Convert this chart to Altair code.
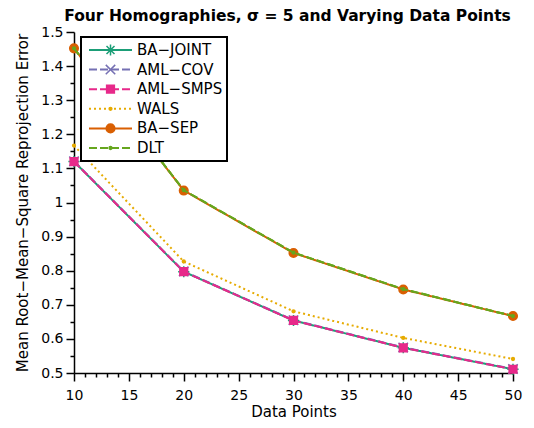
import altair as alt
import pandas as pd

# ---- data ----
data_points = [10, 20, 30, 40, 50]
series_names = ["BA\u2212JOINT", "AML\u2212COV", "AML\u2212SMPS", "WALS", "BA\u2212SEP", "DLT"]
ba_joint = [1.120, 0.797, 0.654, 0.574, 0.511]
aml_cov = [1.121, 0.798, 0.655, 0.575, 0.512]
aml_smps = [1.120, 0.797, 0.654, 0.574, 0.511]
wals = [1.167, 0.827, 0.681, 0.603, 0.541]
ba_sep = [1.452, 1.035, 0.852, 0.745, 0.667]
dlt = [1.452, 1.036, 0.853, 0.746, 0.667]

x_ticks = list(range(10, 51))
y_ticks = [0.5, 0.55, 0.6, 0.65, 0.7, 0.75, 0.8, 0.85, 0.9, 0.95, 1.0,
           1.05, 1.1, 1.15, 1.2, 1.25, 1.3, 1.35, 1.4, 1.45, 1.5]

colors = ["#1b9e77", "#7570b3", "#e7298a", "#e6ab02", "#d95f02", "#66a61e"]
dashes = [[1, 0], [8, 3], [8, 3], [2, 3], [1, 0], [8, 3]]
# marker paths (unit space scaled by sqrt(size)/2)
markers = [
    "M-0.26,0H0.26M0,-0.26V0.26M-0.185,-0.185L0.185,0.185M-0.185,0.185L0.185,-0.185",
    "M-0.22,-0.22L0.22,0.22M-0.22,0.22L0.22,-0.22",
    "M-0.18,-0.18H0.18V0.18H-0.18Z",
    "M-0.065,0A0.065,0.065,0,1,0,0.065,0A0.065,0.065,0,1,0,-0.065,0Z",
    "M-0.2,0A0.2,0.2,0,1,0,0.2,0A0.2,0.2,0,1,0,-0.2,0Z",
    "M-0.065,0A0.065,0.065,0,1,0,0.065,0A0.065,0.065,0,1,0,-0.065,0Z",
]

# marker-legend keys (kept distinct so the two overlaid legends do not merge)
marker_keys = [n + " " for n in series_names]

all_values = [ba_joint, aml_cov, aml_smps, wals, ba_sep, dlt]
rows = []
for k, (name, key, vals) in enumerate(zip(series_names, marker_keys, all_values)):
    for xv, yv in zip(data_points, vals):
        rows.append({"x": xv, "y": yv, "series": name, "series2": key, "k": k})
df = pd.DataFrame(rows)

FONT = "DejaVu Sans"
SYM = 1849

xenc = alt.X("x:Q", title="Data Points",
             scale=alt.Scale(domain=[10, 50], nice=False, zero=False),
             axis=alt.Axis(values=x_ticks,
                           tickSize={"condition": {"test": "datum.value % 5 === 0", "value": 8}, "value": 4},
                           labelExpr="datum.value % 5 === 0 ? datum.label : ''",
                           labelFlush=False, labelOverlap=False, labelPadding=7,
                           titlePadding=2))
yenc = alt.Y("y:Q", title="Mean Root\u2212Mean\u2212Square Reprojection Error",
             scale=alt.Scale(domain=[0.5, 1.5], nice=False, zero=False),
             axis=alt.Axis(values=y_ticks, format="~g",
                           tickSize={"condition": {"test": "abs(datum.value*10 - round(datum.value*10)) < 1e-6", "value": 8}, "value": 4},
                           labelExpr="abs(datum.value*10 - round(datum.value*10)) < 1e-6 ? datum.label : ''",
                           labelFlush=False, labelOverlap=False, labelPadding=3,
                           titlePadding=10))

legend_common = dict(orient="none", legendX=7, legendY=5, title=None,
                     symbolSize=SYM, clipHeight=18, rowPadding=1.6, padding=4,
                     symbolOffset=3, labelOffset=4, labelFont=FONT, labelFontSize=15)
legend_lines = alt.Legend(symbolType="stroke", symbolStrokeWidth=2,
                          fillColor="white", strokeColor="black", labelColor="black",
                          zindex=1, **legend_common)
legend_marks = alt.Legend(symbolStrokeWidth=1.5, symbolOpacity=1, labelOpacity=0,
                          labelColor="white", zindex=2, **legend_common)

lines = alt.Chart(df).mark_line(strokeWidth=2).encode(
    x=xenc, y=yenc,
    color=alt.Color("series:N", scale=alt.Scale(domain=series_names, range=colors), legend=legend_lines),
    strokeDash=alt.StrokeDash("series:N", scale=alt.Scale(domain=series_names, range=dashes), legend=legend_lines),
    order=alt.Order("x:Q"),
)

points = alt.Chart(df).mark_point(filled=True, size=SYM, opacity=1, strokeWidth=1.5).encode(
    x=xenc, y=yenc,
    fill=alt.Fill("series2:N", scale=alt.Scale(domain=marker_keys, range=colors), legend=legend_marks),
    stroke=alt.Stroke("series2:N", scale=alt.Scale(domain=marker_keys, range=colors), legend=legend_marks),
    shape=alt.Shape("series2:N", scale=alt.Scale(domain=marker_keys, range=markers), legend=legend_marks),
    order=alt.Order("k:Q"),
)

dlt_top = alt.Chart(df).transform_filter(
    alt.datum.series == "DLT"
).mark_line(strokeWidth=2, color=colors[5], strokeDash=dashes[5]).encode(x=xenc, y=yenc)

chart = alt.layer(lines, points, dlt_top).properties(
    width=439, height=341,
    padding={"left": 66, "top": 24, "right": 13, "bottom": 50},
    autosize="none",
    title=alt.Title("Four Homographies, \u03c3 = 5 and Varying Data Points",
                    font=FONT, fontSize=15.5, fontWeight="bold", color="black",
                    offset=1, dx=-6),
).configure_view(stroke=None).configure_axis(
    domainColor="black", domainWidth=1.5, tickColor="black", tickWidth=1.5,
    labelFont=FONT, labelFontSize=14, labelColor="black",
    titleFont=FONT, titleFontSize=15, titleFontWeight="normal", titleColor="black",
    grid=False,
).configure_legend(strokeWidth=2)

chart.save("out.html", embed_options={"renderer": "svg", "actions": False})
